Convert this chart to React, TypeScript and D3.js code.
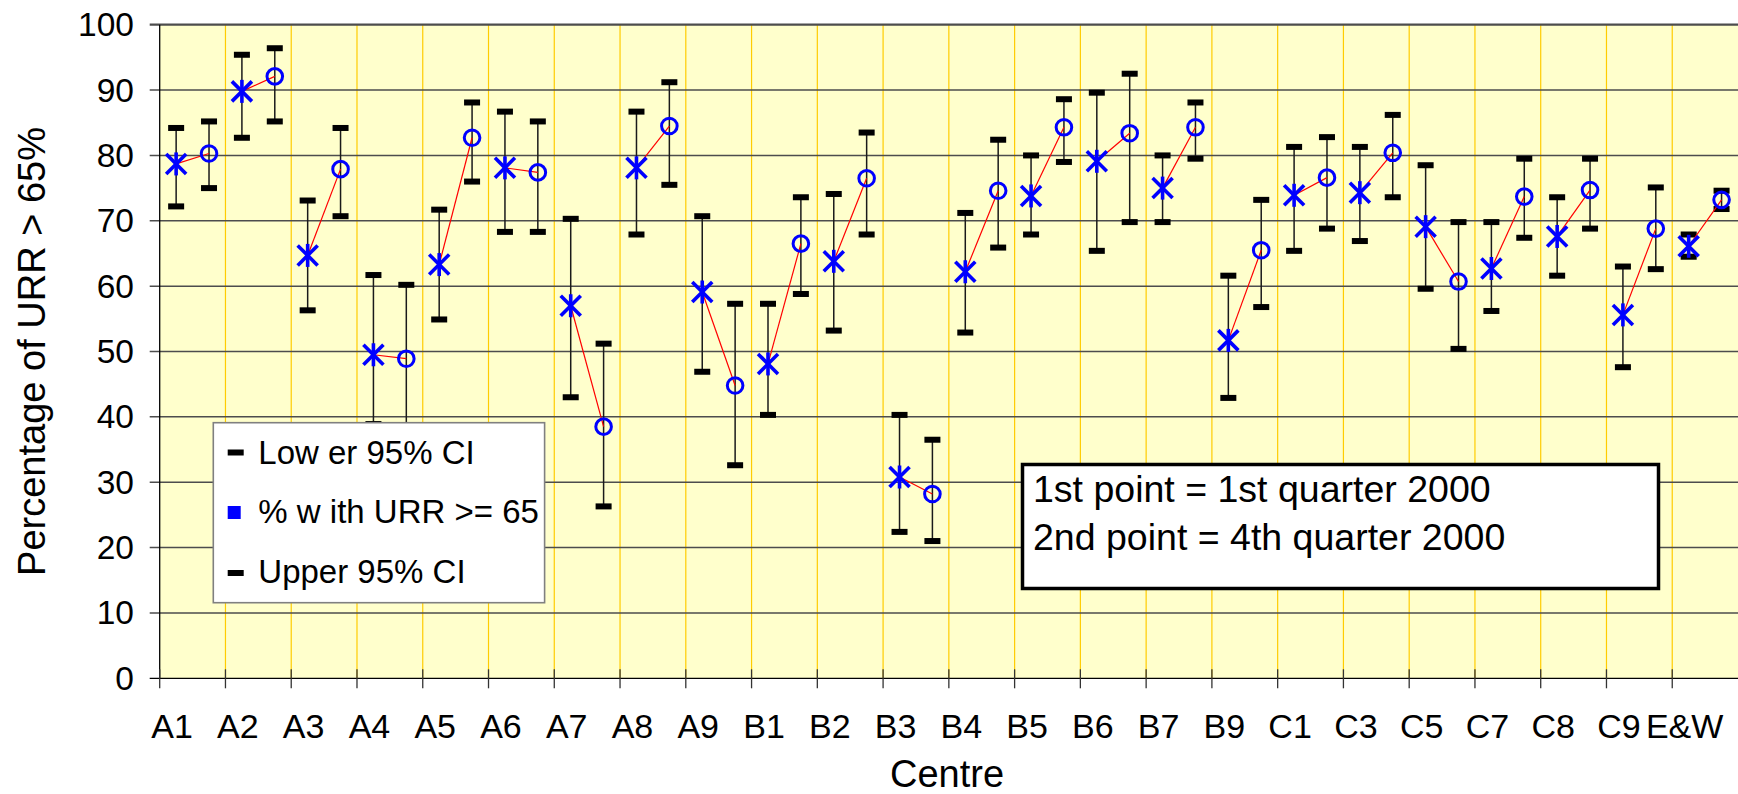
import React from "react";
import * as d3 from "d3";

const categories = ["A1","A2","A3","A4","A5","A6","A7","A8","A9","B1","B2","B3","B4","B5","B6","B7","B9","C1","C3","C5","C7","C8","C9","E&W"];
// 1st quarter 2000
const q1Value = [78.7, 89.8, 64.7, 49.5, 63.3, 78.1, 57.0, 78.1, 59.1, 48.1, 63.8, 30.8, 62.2, 73.8, 79.1, 75.0, 51.7, 73.9, 74.3, 69.1, 62.7, 67.6, 55.6, 66.1];
const q1Lower = [72.2, 82.7, 56.3, 38.9, 54.9, 68.3, 43.0, 67.9, 46.9, 40.3, 53.2, 22.4, 52.9, 67.9, 65.4, 69.8, 42.9, 65.4, 66.9, 59.6, 56.2, 61.6, 47.6, 64.5];
const q1Upper = [84.2, 95.4, 73.1, 61.7, 71.7, 86.7, 70.3, 86.7, 70.7, 57.3, 74.1, 40.3, 71.2, 80.0, 89.6, 80.0, 61.6, 81.3, 81.3, 78.5, 69.8, 73.6, 63.0, 67.9];
// 4th quarter 2000
const q4Value = [80.3, 92.1, 77.9, 48.9, 82.7, 77.4, 38.5, 84.5, 44.8, 66.5, 76.5, 28.2, 74.6, 84.3, 83.4, 84.3, 65.5, 76.6, 80.4, 60.7, 73.7, 74.7, 68.8, 73.2];
const q4Lower = [75.0, 85.2, 70.7, 37.0, 76.0, 68.3, 26.3, 75.5, 32.6, 58.8, 67.9, 21.0, 65.9, 79.0, 69.8, 79.5, 56.8, 68.8, 73.6, 50.4, 67.4, 68.8, 62.6, 71.8];
const q4Upper = [85.2, 96.4, 84.2, 60.2, 88.1, 85.2, 51.2, 91.2, 57.3, 73.6, 83.5, 36.5, 82.4, 88.6, 92.5, 88.1, 73.2, 82.8, 86.2, 69.8, 79.5, 79.5, 75.1, 74.6];
const yTicks = [0, 10, 20, 30, 40, 50, 60, 70, 80, 90, 100];

const W = 1738;
const H = 794;
const FONT = "'Liberation Sans', Arial, Helvetica, sans-serif";

export default function App() {
  const left = 159.7;
  const right = 1738;
  const top = 24.7;
  const bottom = 678.3;
  const x = d3.scaleBand<string>().domain(categories).range([left, right]).padding(0);
  const y = d3.scaleLinear().domain([0, 100]).range([bottom, top]);
  const bw = x.bandwidth();
  const px1 = (c: string) => (x(c) as number) + bw * 0.25;
  const px2 = (c: string) => (x(c) as number) + bw * 0.75;

  const blue = "#0000FF";
  const star = (cx: number, cy: number, key: string) => (
    <g key={key} stroke={blue} strokeWidth={3.6} fill="none" strokeLinecap="butt">
      <line x1={cx - 10} y1={cy - 10} x2={cx + 10} y2={cy + 10} />
      <line x1={cx - 10} y1={cy + 10} x2={cx + 10} y2={cy - 10} />
      <line x1={cx} y1={cy - 11.5} x2={cx} y2={cy + 11.5} />
    </g>
  );
  const errBar = (cx: number, lo: number, hi: number, key: string) => (
    <g key={key}>
      <line x1={cx} x2={cx} y1={y(lo)} y2={y(hi)} stroke="#1a1a1a" strokeWidth={1.5} />
      <rect x={cx - 8} y={y(lo) - 3} width={16} height={6} fill="#000" />
      <rect x={cx - 8} y={y(hi) - 3} width={16} height={6} fill="#000" />
    </g>
  );

  return (
    <div style={{ position: "absolute", left: 0, top: 0 }}>
      <svg width={W} height={H} style={{ display: "block", background: "#fff" }} fontFamily={FONT}>
        <rect x={left} y={top} width={right - left} height={bottom - top} fill="#FFFFCC" />
        {/* vertical gridlines */}
        {categories.slice(1).map((c) => (
          <line key={"vg" + c} x1={x(c)} x2={x(c)} y1={top} y2={bottom} stroke="#FFCC00" strokeWidth={1.2} />
        ))}
        {/* horizontal gridlines + y ticks */}
        {yTicks.map((t) => (
          <line key={"hg" + t} x1={left - 10} x2={right} y1={y(t)} y2={y(t)}
            stroke={t === 0 ? "#000" : "#4d4d4d"} strokeWidth={t === 100 ? 2.2 : t === 0 ? 1.3 : 1.5} />
        ))}
        {/* axes */}
        <line x1={left} x2={left} y1={top} y2={bottom} stroke="#000" strokeWidth={1.3} />
        {categories.map((c) => (
          <line key={"xt" + c} x1={x(c)} x2={x(c)} y1={bottom - 9} y2={bottom + 10} stroke="#333" strokeWidth={1.3} />
        ))}
        {/* y tick labels */}
        {yTicks.map((t) => (
          <text key={"yl" + t} x={134} y={y(t) + 11.5} textAnchor="end" fontSize={33.5} fill="#000">{t}</text>
        ))}
        {/* x tick labels */}
        {categories.map((c) => (
          <text key={"xl" + c} x={px1(c) - 4} y={738.3} textAnchor="middle" fontSize={34} fill="#000">{c}</text>
        ))}
        {/* axis titles */}
        <text x={947} y={787} textAnchor="middle" fontSize={38} fill="#000">Centre</text>
        <text transform={`translate(45,${(top + bottom) / 2}) rotate(-90)`} textAnchor="middle" fontSize={38} fill="#000">
          Percentage of URR &gt; 65%
        </text>

        {/* error bars */}
        {categories.map((c, i) => errBar(px1(c), q1Lower[i], q1Upper[i], "e1" + c))}
        {categories.map((c, i) => errBar(px2(c), q4Lower[i], q4Upper[i], "e4" + c))}
        {/* red connecting lines */}
        {categories.map((c, i) => (
          <line key={"rl" + c} x1={px1(c)} y1={y(q1Value[i])} x2={px2(c)} y2={y(q4Value[i])} stroke="#FF0000" strokeWidth={1.2} />
        ))}
        {/* markers */}
        {categories.map((c, i) => star(px1(c), y(q1Value[i]), "s" + c))}
        {categories.map((c, i) => (
          <circle key={"c" + c} cx={px2(c)} cy={y(q4Value[i])} r={7.8} fill="none" stroke={blue} strokeWidth={3} />
        ))}

        {/* legend */}
        <rect x={213.3} y={422.7} width={331.3} height={180} fill="#fff" stroke="#808080" strokeWidth={1.6} />
        <rect x={227.7} y={449.5} width={16} height={6} fill="#000" />
        <text x={258.3} y={464} fontSize={33} fill="#000">Low er 95% CI</text>
        <rect x={227.7} y={506} width={13} height={13} fill={blue} />
        <text x={258.3} y={523.3} fontSize={33} fill="#000">% w ith URR &gt;= 65</text>
        <rect x={227.7} y={570} width={16} height={6} fill="#000" />
        <text x={258.3} y={582.7} fontSize={33} fill="#000">Upper 95% CI</text>

        {/* text box */}
        <rect x={1022.5} y={464.5} width={636} height={124} fill="#fff" stroke="#000" strokeWidth={3.5} />
        <text x={1033} y={501.7} fontSize={37.5} fill="#000">1st point = 1st quarter 2000</text>
        <text x={1033} y={550} fontSize={37.5} fill="#000">2nd point = 4th quarter 2000</text>
      </svg>
    </div>
  );
}
